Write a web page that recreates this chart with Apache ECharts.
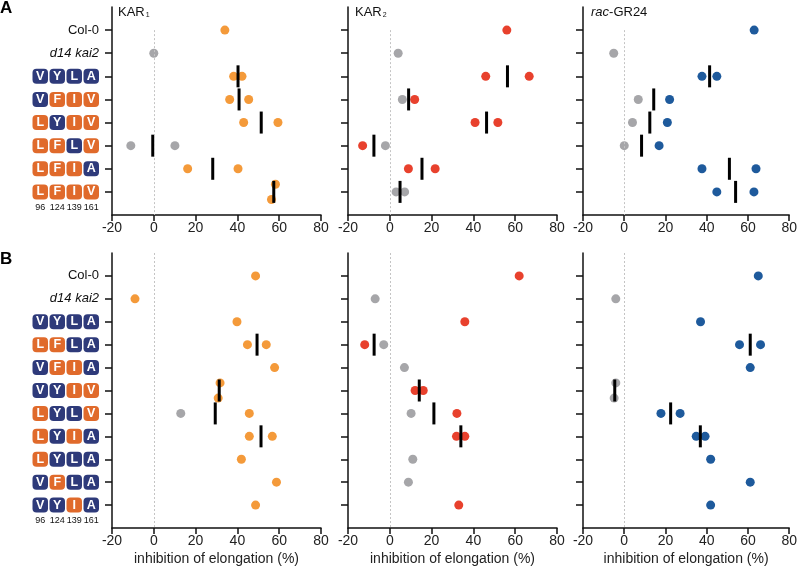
<!DOCTYPE html>
<html><head><meta charset="utf-8">
<script src="https://cdn.jsdelivr.net/npm/echarts@6/dist/echarts.min.js"></script>
<style>html,body{margin:0;padding:0;background:#fff}#c{width:800px;height:572px}</style>
</head><body><div id="c"></div>
<script>
// ---------- data ----------
const rowsA = ['Col-0', 'd14 kai2', 'VYLA', 'VFIV', 'LYIV', 'LFLV', 'LFIA', 'LFIV'];
const rowsB = ['Col-0', 'd14 kai2', 'VYLA', 'LFLA', 'VFIA', 'VYIV', 'LYLV', 'LYIA', 'LYLA', 'VFLA', 'VYIA'];
const residuePositions = ['96', '124', '139', '161'];
const refResidues = 'LFIV';
const xTicks = [-20, 0, 20, 40, 60, 80];
const xAxisTitle = 'inhibition of elongation (%)';

// points are [inhibition %, row index]
// Panel A, KAR1
const aKar1Resp = [[34,0],[38.2,2],[42.2,2],[36.3,3],[45.4,3],[43,4],[59.4,4],[16.2,6],[40.3,6],[58.2,7],[56.3,7]];
const aKar1Gray = [[0,1],[-11,5],[10.1,5]];
const aKar1Mean = [[40.3,2],[40.8,3],[51.4,4],[-0.5,5],[28.2,6],[57.4,7]];
// Panel A, KAR2
const aKar2Resp = [[56,0],[45.9,2],[66.7,2],[11.9,3],[40.8,4],[51.7,4],[-13,5],[8.9,6],[21.7,6]];
const aKar2Gray = [[4,1],[6,3],[-2.1,5],[3,7],[7.1,7]];
const aKar2Mean = [[56.3,2],[9,3],[46.3,4],[-7.6,5],[15.4,6],[4.9,7]];
// Panel A, rac-GR24
const aGr24Resp = [[63,0],[37.7,2],[44.9,2],[22,3],[20.9,4],[16.9,5],[37.7,6],[63.9,6],[44.9,7],[62.9,7]];
const aGr24Gray = [[-5.1,1],[6.8,3],[4,4],[0,5]];
const aGr24Mean = [[41.4,2],[14.3,3],[12.4,4],[8.4,5],[51,6],[54,7]];
// Panel B, KAR1
const bKar1Resp = [[48.7,0],[-9,1],[39.8,2],[44.8,3],[53.8,3],[57.8,4],[31.7,5],[30.8,5],[45.7,6],[45.7,7],[56.7,7],[41.9,8],[58.7,9],[48.7,10]];
const bKar1Gray = [[12.9,6]];
const bKar1Mean = [[49.4,3],[31.3,5],[29.4,6],[51.3,7]];
// Panel B, KAR2
const bKar2Resp = [[61.9,0],[35.9,2],[-12,3],[12.1,5],[16,5],[32.1,6],[31.9,7],[35.9,7],[33,10]];
const bKar2Gray = [[-7,1],[-2.9,3],[7,4],[10.2,6],[11,8],[8.9,9]];
const bKar2Mean = [[-7.5,3],[14.1,5],[21.1,6],[34,7]];
// Panel B, rac-GR24
const bGr24Resp = [[65,0],[37,2],[55.9,3],[66.1,3],[61.1,4],[17.8,6],[27.1,6],[34.9,7],[39.2,7],[41.9,8],[61.1,9],[41.9,10]];
const bGr24Gray = [[-4.1,1],[-4.1,5],[-4.9,5]];
const bGr24Mean = [[61.1,3],[-4.6,5],[22.5,6],[36.9,7]];

// ---------- styling ----------
const C_ORANGE = '#F49A3A', C_RED = '#E8412D', C_BLUE = '#1E5A9C', C_GRAY = '#A6A6A9';
const BOX_ORANGE = '#E06A2B', BOX_NAVY = '#2E3A7A';
const FONT = "'Liberation Sans', Arial, Helvetica, sans-serif";
const colLefts = [112, 348, 583];
const colWidths = [209, 209, 210];
const rowTops = [7, 253];
const rowHeights = [208, 275];

const panels = [
  {r:0, c:0, rows:rowsA, resp:aKar1Resp, gray:aKar1Gray, mean:aKar1Mean, color:C_ORANGE, zeroFrom:0},
  {r:0, c:1, rows:rowsA, resp:aKar2Resp, gray:aKar2Gray, mean:aKar2Mean, color:C_RED, zeroFrom:0},
  {r:0, c:2, rows:rowsA, resp:aGr24Resp, gray:aGr24Gray, mean:aGr24Mean, color:C_BLUE, zeroFrom:0},
  {r:1, c:0, rows:rowsB, resp:bKar1Resp, gray:bKar1Gray, mean:bKar1Mean, color:C_ORANGE, zeroFrom:-1},
  {r:1, c:1, rows:rowsB, resp:bKar2Resp, gray:bKar2Gray, mean:bKar2Mean, color:C_RED, zeroFrom:-1},
  {r:1, c:2, rows:rowsB, resp:bGr24Resp, gray:bGr24Gray, mean:bGr24Mean, color:C_BLUE, zeroFrom:-1}
];

// vertical separation of overlapping points within a row
function spread(resp, gray) {
  const all = resp.map(p => ({v:p[0], r:p[1], g:false})).concat(gray.map(p => ({v:p[0], r:p[1], g:true})));
  all.forEach(p => {
    p.off = 0;
    all.forEach(q => {
      if (q !== p && q.r === p.r && Math.abs(q.v - p.v) < 3) p.off = p.v > q.v ? -0.33 : 0.33;
    });
  });
  return {
    resp: all.filter(p => !p.g).map(p => [p.v, p.r + p.off]),
    gray: all.filter(p => p.g).map(p => [p.v, p.r + p.off])
  };
}

function rowLabelFormatter(rows) {
  return function (v) {
    const i = Math.round(v);
    if (Math.abs(v - i) > 0.01) {
      return residuePositions.map(s => '{p|' + s + '}').join('{g| }');
    }
    const name = rows[i];
    if (name === 'Col-0') return '{t|Col-0}';
    if (name === 'd14 kai2') return '{it|d14 kai2}';
    return name.split('').map((ch, k) => (ch === refResidues[k] ? '{o|' : '{n|') + ch + '}').join('{g| }');
  };
}

const boxStyle = (bg) => ({backgroundColor: bg, color: '#fff', fontWeight: 'bold', fontSize: 12.5, fontFamily: FONT,
  width: 15.5, height: 15, lineHeight: 15, align: 'center', verticalAlign: 'middle', borderRadius: 4});
const labelRich = {
  o: boxStyle(BOX_ORANGE),
  n: boxStyle(BOX_NAVY),
  g: {width: 1.5, fontSize: 9},
  t: {fontSize: 13, color: '#111', fontFamily: FONT},
  it: {fontSize: 13, color: '#111', fontStyle: 'italic', fontFamily: FONT},
  p: {fontSize: 9, color: '#111', width: 15.5, align: 'center', fontFamily: FONT}
};

const grid = [], xAxis = [], yAxis = [], series = [];
panels.forEach((P, idx) => {
  grid.push({left: colLefts[P.c], width: colWidths[P.c], top: rowTops[P.r], height: rowHeights[P.r], containLabel: false});
  xAxis.push({
    type: 'value', gridIndex: idx, position: 'bottom', min: xTicks[0], max: xTicks[xTicks.length - 1], interval: 20,
    axisLine: {onZero: false, lineStyle: {color: '#111', width: 1.5}},
    axisTick: {length: 6, lineStyle: {color: '#111', width: 1.5}},
    axisLabel: {fontSize: 14, color: '#222', margin: 6, fontFamily: FONT},
    splitLine: {show: false},
    name: P.r === 1 ? xAxisTitle : '', nameLocation: 'middle', nameGap: 24,
    nameTextStyle: {fontSize: 14, color: '#222', fontFamily: FONT}
  });
  const n = P.rows.length;
  const idxs = P.rows.map((_, i) => i);
  yAxis.push({
    type: 'value', gridIndex: idx, position: 'left', inverse: true, min: -1, max: n,
    axisLine: {show: true, onZero: false, lineStyle: {color: '#111', width: 1.5}},
    axisTick: {show: true, customValues: idxs, length: 7, lineStyle: {color: '#111', width: 1.5}},
    axisLabel: {show: P.c === 0, customValues: idxs.concat([n - 1 + 0.66]), margin: 13,
      formatter: rowLabelFormatter(P.rows), rich: labelRich, color: '#111'},
    splitLine: {show: false}
  });
  const pts = spread(P.resp, P.gray);
  series.push({
    type: 'scatter', xAxisIndex: idx, yAxisIndex: idx, data: pts.gray, symbolSize: 9,
    itemStyle: {color: C_GRAY, opacity: 1}, z: 3, silent: true,
    markLine: {silent: true, symbol: 'none', label: {show: false},
      lineStyle: {color: '#c4c4c4', type: [2, 2], width: 1},
      data: [[{coord: [0, P.zeroFrom]}, {coord: [0, n]}]]}
  });
  series.push({
    type: 'scatter', xAxisIndex: idx, yAxisIndex: idx, data: pts.resp, symbolSize: 9,
    itemStyle: {color: P.color, opacity: 1}, z: 3, silent: true
  });
  series.push({
    type: 'scatter', xAxisIndex: idx, yAxisIndex: idx, data: P.mean, symbol: 'rect', symbolSize: [3, 22],
    itemStyle: {color: '#000', opacity: 1}, z: 4, silent: true
  });
});

const titleStyle = {fontFamily: FONT, color: '#111', fontWeight: 'normal', rich: {
  a: {fontSize: 13, lineHeight: 15, verticalAlign: 'bottom', fontWeight: 'normal', fontFamily: FONT, color: '#111'},
  ai: {fontSize: 13, lineHeight: 15, verticalAlign: 'bottom', fontWeight: 'normal', fontStyle: 'italic', fontFamily: FONT, color: '#111'},
  s: {fontSize: 7, lineHeight: 7, verticalAlign: 'bottom', fontWeight: 'normal', fontFamily: FONT, color: '#111', padding: [0, 0, 0, 1]}
}};
const title = [
  {text: 'A', left: 0, top: 0, padding: 0, textStyle: {fontSize: 17, fontWeight: 'bold', fontFamily: FONT, color: '#000'}},
  {text: 'B', left: 0, top: 251, padding: 0, textStyle: {fontSize: 17, fontWeight: 'bold', fontFamily: FONT, color: '#000'}},
  {text: '{a|KAR}{s|1}', left: 118, top: 4, padding: 0, textStyle: titleStyle},
  {text: '{a|KAR}{s|2}', left: 355, top: 4, padding: 0, textStyle: titleStyle},
  {text: '{ai|rac}{a|-GR24}', left: 591, top: 4, padding: 0, textStyle: titleStyle}
];

const chart = echarts.init(document.getElementById('c'), null, {renderer: 'canvas'});
chart.setOption({
  animation: false, backgroundColor: '#fff',
  textStyle: {fontFamily: FONT},
  title, grid, xAxis, yAxis, series
});
</script></body></html>
